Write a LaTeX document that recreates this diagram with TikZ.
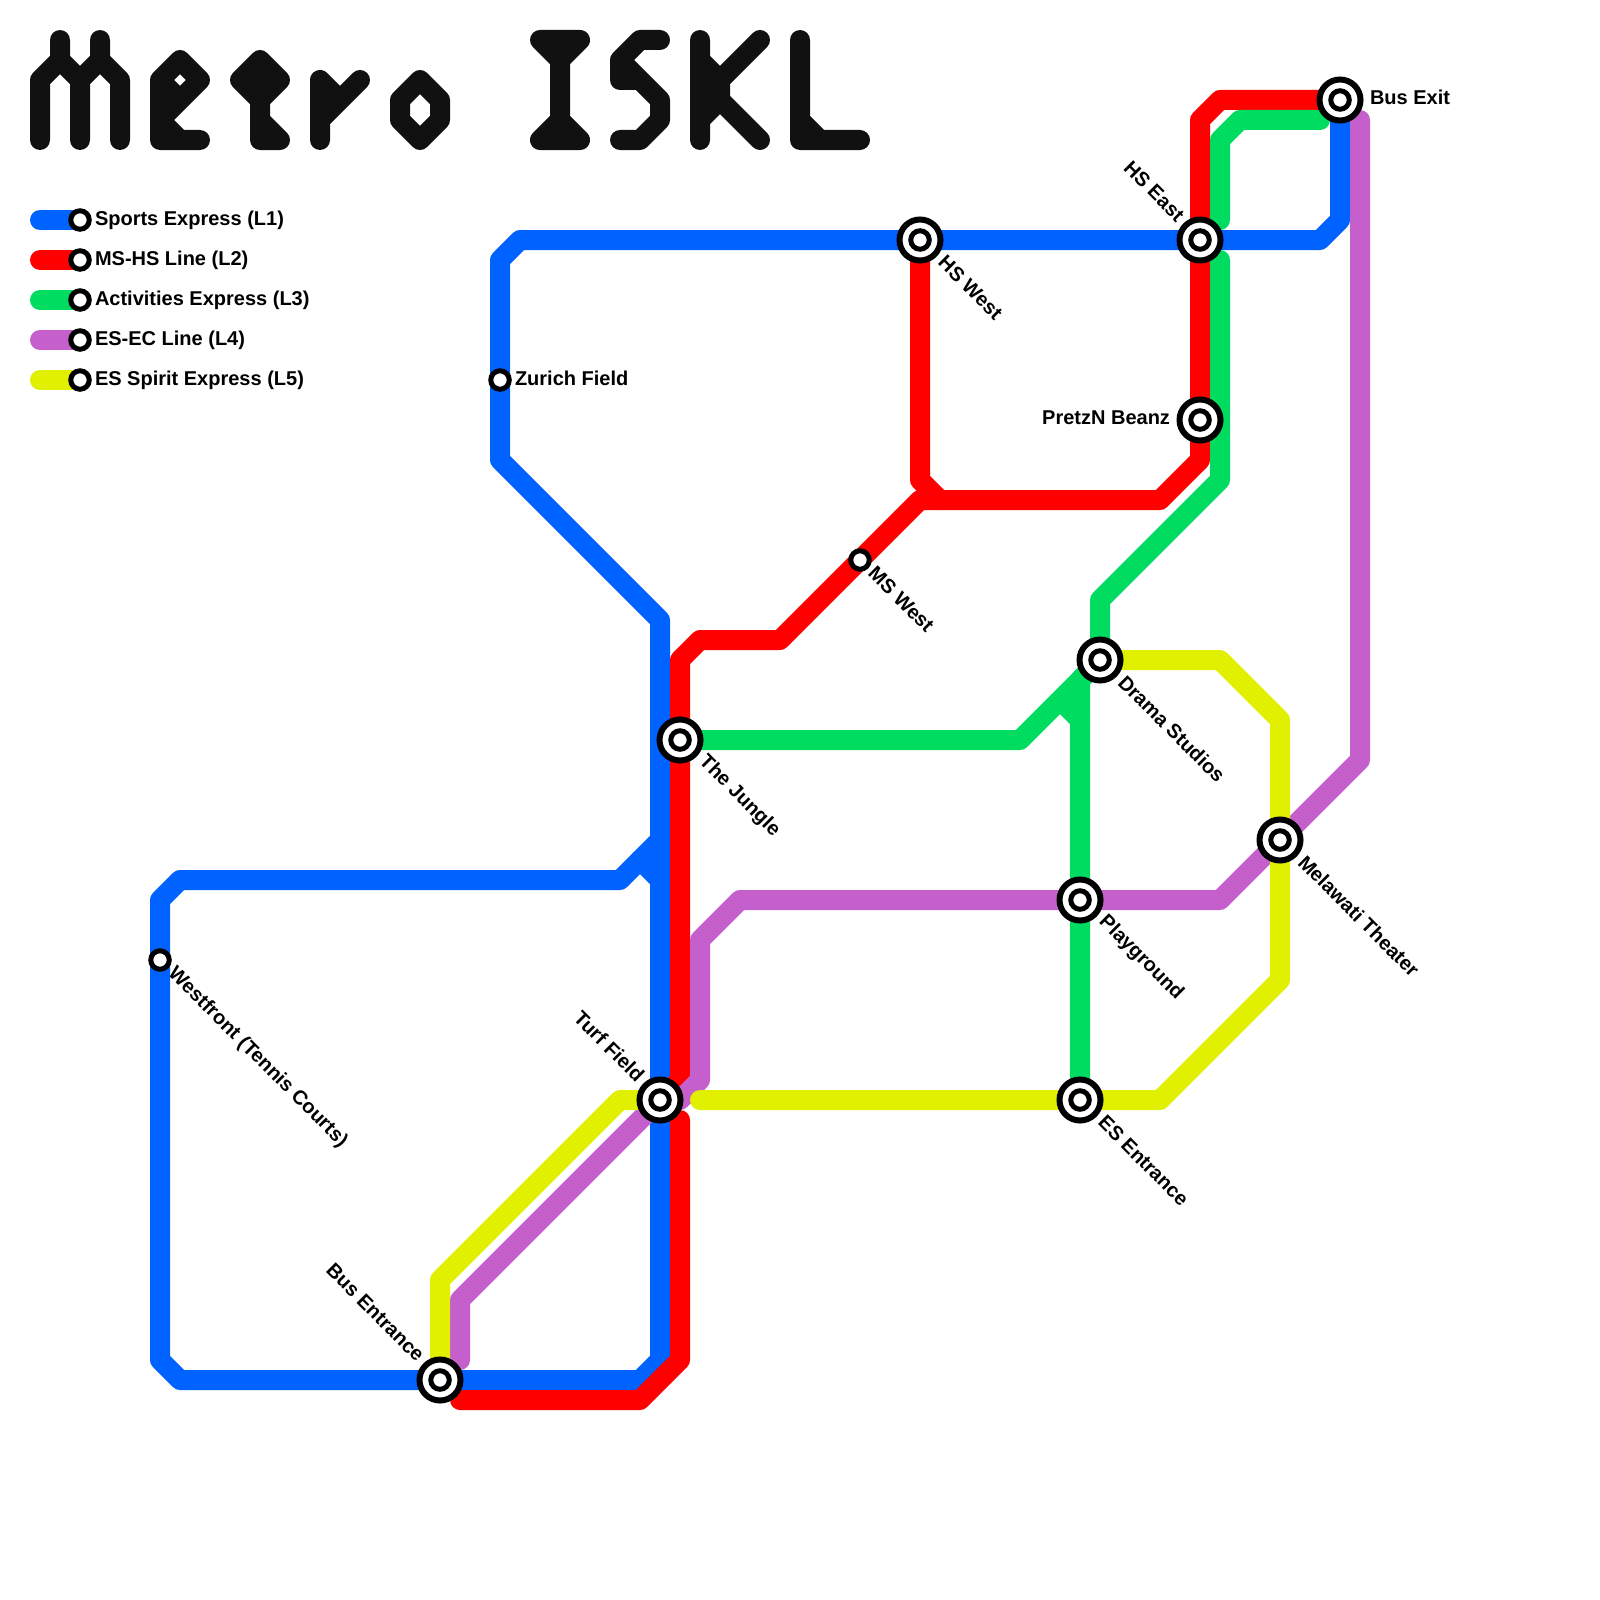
\documentclass[tikz,border=0pt]{standalone}
\usepackage{fontspec}
\setmainfont{Liberation Sans}
\definecolor{lblue}{RGB}{0,98,255}
\definecolor{lred}{RGB}{255,0,0}
\definecolor{lgreen}{RGB}{0,220,96}
\definecolor{lpurple}{RGB}{196,95,204}
\definecolor{lyellow}{RGB}{224,240,0}
\definecolor{ttl}{RGB}{17,17,17}
\tikzset{
  x=1pt,y=-1pt,
  mline/.style={line width=20pt,line cap=round,line join=round},
  title/.style={mline,draw=ttl},
  big/.style={circle,draw=black,fill=white,line width=6pt,inner sep=0pt,outer sep=0pt,minimum size=41pt},
  small/.style={circle,draw=black,fill=white,line width=5pt,inner sep=0pt,outer sep=0pt,minimum size=18.5pt},
  lab/.style={font=\bfseries\fontsize{20pt}{24pt}\selectfont,text=black,inner sep=0pt,outer sep=0pt},
  dr/.style={lab,rotate=-45,anchor=west},
  ul/.style={lab,rotate=-45,anchor=east},
}
\newcommand{\bigst}[1]{\node[big] (#1o) at (#1) {};\node[small] (#1i) at (#1) {};}
\newcommand{\smallst}[1]{\node[small] (#1i) at (#1) {};}
\begin{document}
\begin{tikzpicture}
\fill[white] (0,0) rectangle (1600,1600);
\useasboundingbox (0,0) rectangle (1600,1600);
% station coordinates
\coordinate (busexit) at (1340,100);
\coordinate (hseast) at (1200,240);
\coordinate (hswest) at (920,240);
\coordinate (pretzn) at (1200,420);
\coordinate (zurich) at (500,380);
\coordinate (mswest) at (860,560);
\coordinate (drama) at (1100,660);
\coordinate (jungle) at (680,740);
\coordinate (melawati) at (1280,840);
\coordinate (playground) at (1080,900);
\coordinate (westfront) at (160,960);
\coordinate (turf) at (660,1100);
\coordinate (esentrance) at (1080,1100);
\coordinate (busentrance) at (440,1380);
\foreach \i/\y in {1/220,2/260,3/300,4/340,5/380}{\coordinate (leg\i) at (80,\y);}
% title
\draw[title] (40,140)--(40,80)--(60,60)--(60,40) (60,60)--(80,80)--(80,140) (80,80)--(100,60)--(100,40) (100,60)--(120,80)--(120,140);
\draw[title] (200,140)--(160,140)--(160,80)--(180,60)--(200,80)--(160,120)--(180,140) (160,80)--(180,100);
\draw[title] (260,60)--(240,80)--(260,100)--(280,80)--cycle (240,80)--(280,80) (260,100)--(260,140)--(280,140) (260,120)--(280,140);
\draw[title] (320,140)--(320,80)--(340,100)--(360,80)--(320,120);
\draw[title] (420,80)--(440,100)--(440,120)--(420,140)--(400,120)--(400,100)--cycle;
\draw[title] (540,40)--(580,40)--(560,60)--(540,40) (560,40)--(560,140) (540,140)--(580,140)--(560,120)--cycle;
\draw[title] (660,40)--(640,40)--(620,60)--(620,80)--(640,80) (620,60)--(660,100)--(660,120)--(640,140)--(620,140);
\draw[title] (700,40)--(700,140) (700,60)--(720,80)--(760,40) (720,80)--(720,100)--(700,120) (720,100)--(760,140);
\draw[title] (800,40)--(800,140)--(860,140) (800,120)--(820,140);
% legend lines
\draw[mline,lblue] (40,220)--(leg1);
\draw[mline,lred] (40,260)--(leg2);
\draw[mline,lgreen] (40,300)--(leg3);
\draw[mline,lpurple] (40,340)--(leg4);
\draw[mline,lyellow] (40,380)--(leg5);
% L1
\draw[mline,lblue] (busentrance)--(640,1380)--(660,1360)--(jungle-|turf)--(660,620)--(500,460)--(zurich)--(500,260)--(520,240)--(hswest)--(hseast)--(1320,240)--(1340,220)--(busexit);
\draw[mline,lblue] (busentrance)--(180,1380)--(160,1360)--(westfront)--(160,900)--(180,880)--(620,880)--(660,840);
\draw[mline,lblue] (640,860)--(660,880);
% L2
\draw[mline,lred] (busexit)--(1220,100)--(1200,120)--(hseast)--(pretzn)--(1200,460)--(1160,500)--(940,500)--(920,480)--(hswest);
\draw[mline,lred] (940,500)--(920,500)--(mswest)--(780,640)--(700,640)--(680,660)--(jungle)--(680,1080)--(turf);
\draw[mline,lred] (680,1120)--(680,1360)--(640,1400)--(460,1400);
% L3
\draw[mline,lgreen] (1320,120)--(1240,120)--(1220,140)--(1220,220);
\draw[mline,lgreen] (1220,260)--(1220,480)--(1100,600)--(drama)--(1080,680)--(playground)--(esentrance);
\draw[mline,lgreen] (jungle)--(1020,740)--(drama) (1060,700)--(1080,720);
% L4
\draw[mline,lpurple] (1360,120)--(1360,760)--(melawati)--(1220,900)--(playground)--(740,900)--(700,940)--(700,1080)--(680,1100)--(turf)--(460,1300)--(460,1360);
% L5
\draw[mline,lyellow] (busentrance)--(440,1280)--(620,1100)--(turf);
\draw[mline,lyellow] (700,1100)--(esentrance)--(1160,1100)--(1280,980)--(melawati)--(1280,720)--(1220,660)--(drama);
% stations
\bigst{busexit}\bigst{hseast}\bigst{hswest}\bigst{pretzn}\bigst{drama}\bigst{jungle}\bigst{melawati}\bigst{playground}\bigst{turf}\bigst{esentrance}\bigst{busentrance}
\smallst{zurich}\smallst{mswest}\smallst{westfront}
\foreach \i in {1,...,5}{\node[small] (legs\i) at (leg\i) {};}
% labels
\node[lab,anchor=west] (lbusexit) at ([shift={(30,-3)}]busexit) {Bus Exit};
\node[ul] (lhseast) at ([shift={(-19,-22)}]hseast) {HS East};
\node[dr] (lhswest) at ([shift={(22,19)}]hswest) {HS West};
\node[lab,anchor=east] (lpretzn) at ([shift={(-30,-2)}]pretzn) {PretzN Beanz};
\node[lab,anchor=west] (lzurich) at ([shift={(15,-2)}]zurich) {Zurich Field};
\node[dr] (lmswest) at ([shift={(12,10)}]mswest) {MS West};
\node[dr] (ldrama) at ([shift={(22,19)}]drama) {Drama Studios};
\node[dr] (ljungle) at ([shift={(22,19)}]jungle) {The Jungle};
\node[dr] (lmelawati) at ([shift={(22,19)}]melawati) {Melawati Theater};
\node[dr] (lplayground) at ([shift={(22,19)}]playground) {Playground};
\node[dr] (lwestfront) at ([shift={(11,11)}]westfront) {Westfront (Tennis Courts)};
\node[ul] (lturf) at ([shift={(-19,-22)}]turf) {Turf Field};
\node[dr] (les) at ([shift={(22,19)}]esentrance) {ES Entrance};
\node[ul] (lbusent) at ([shift={(-19,-22)}]busentrance) {Bus Entrance};
\node[lab,anchor=west] (t1) at (95,220) {Sports Express (L1)};
\node[lab,anchor=west] (t2) at (95,260) {MS-HS Line (L2)};
\node[lab,anchor=west] (t3) at (95,300) {Activities Express (L3)};
\node[lab,anchor=west] (t4) at (95,340) {ES-EC Line (L4)};
\node[lab,anchor=west] (t5) at (95,380) {ES Spirit Express (L5)};
\end{tikzpicture}
\end{document}
